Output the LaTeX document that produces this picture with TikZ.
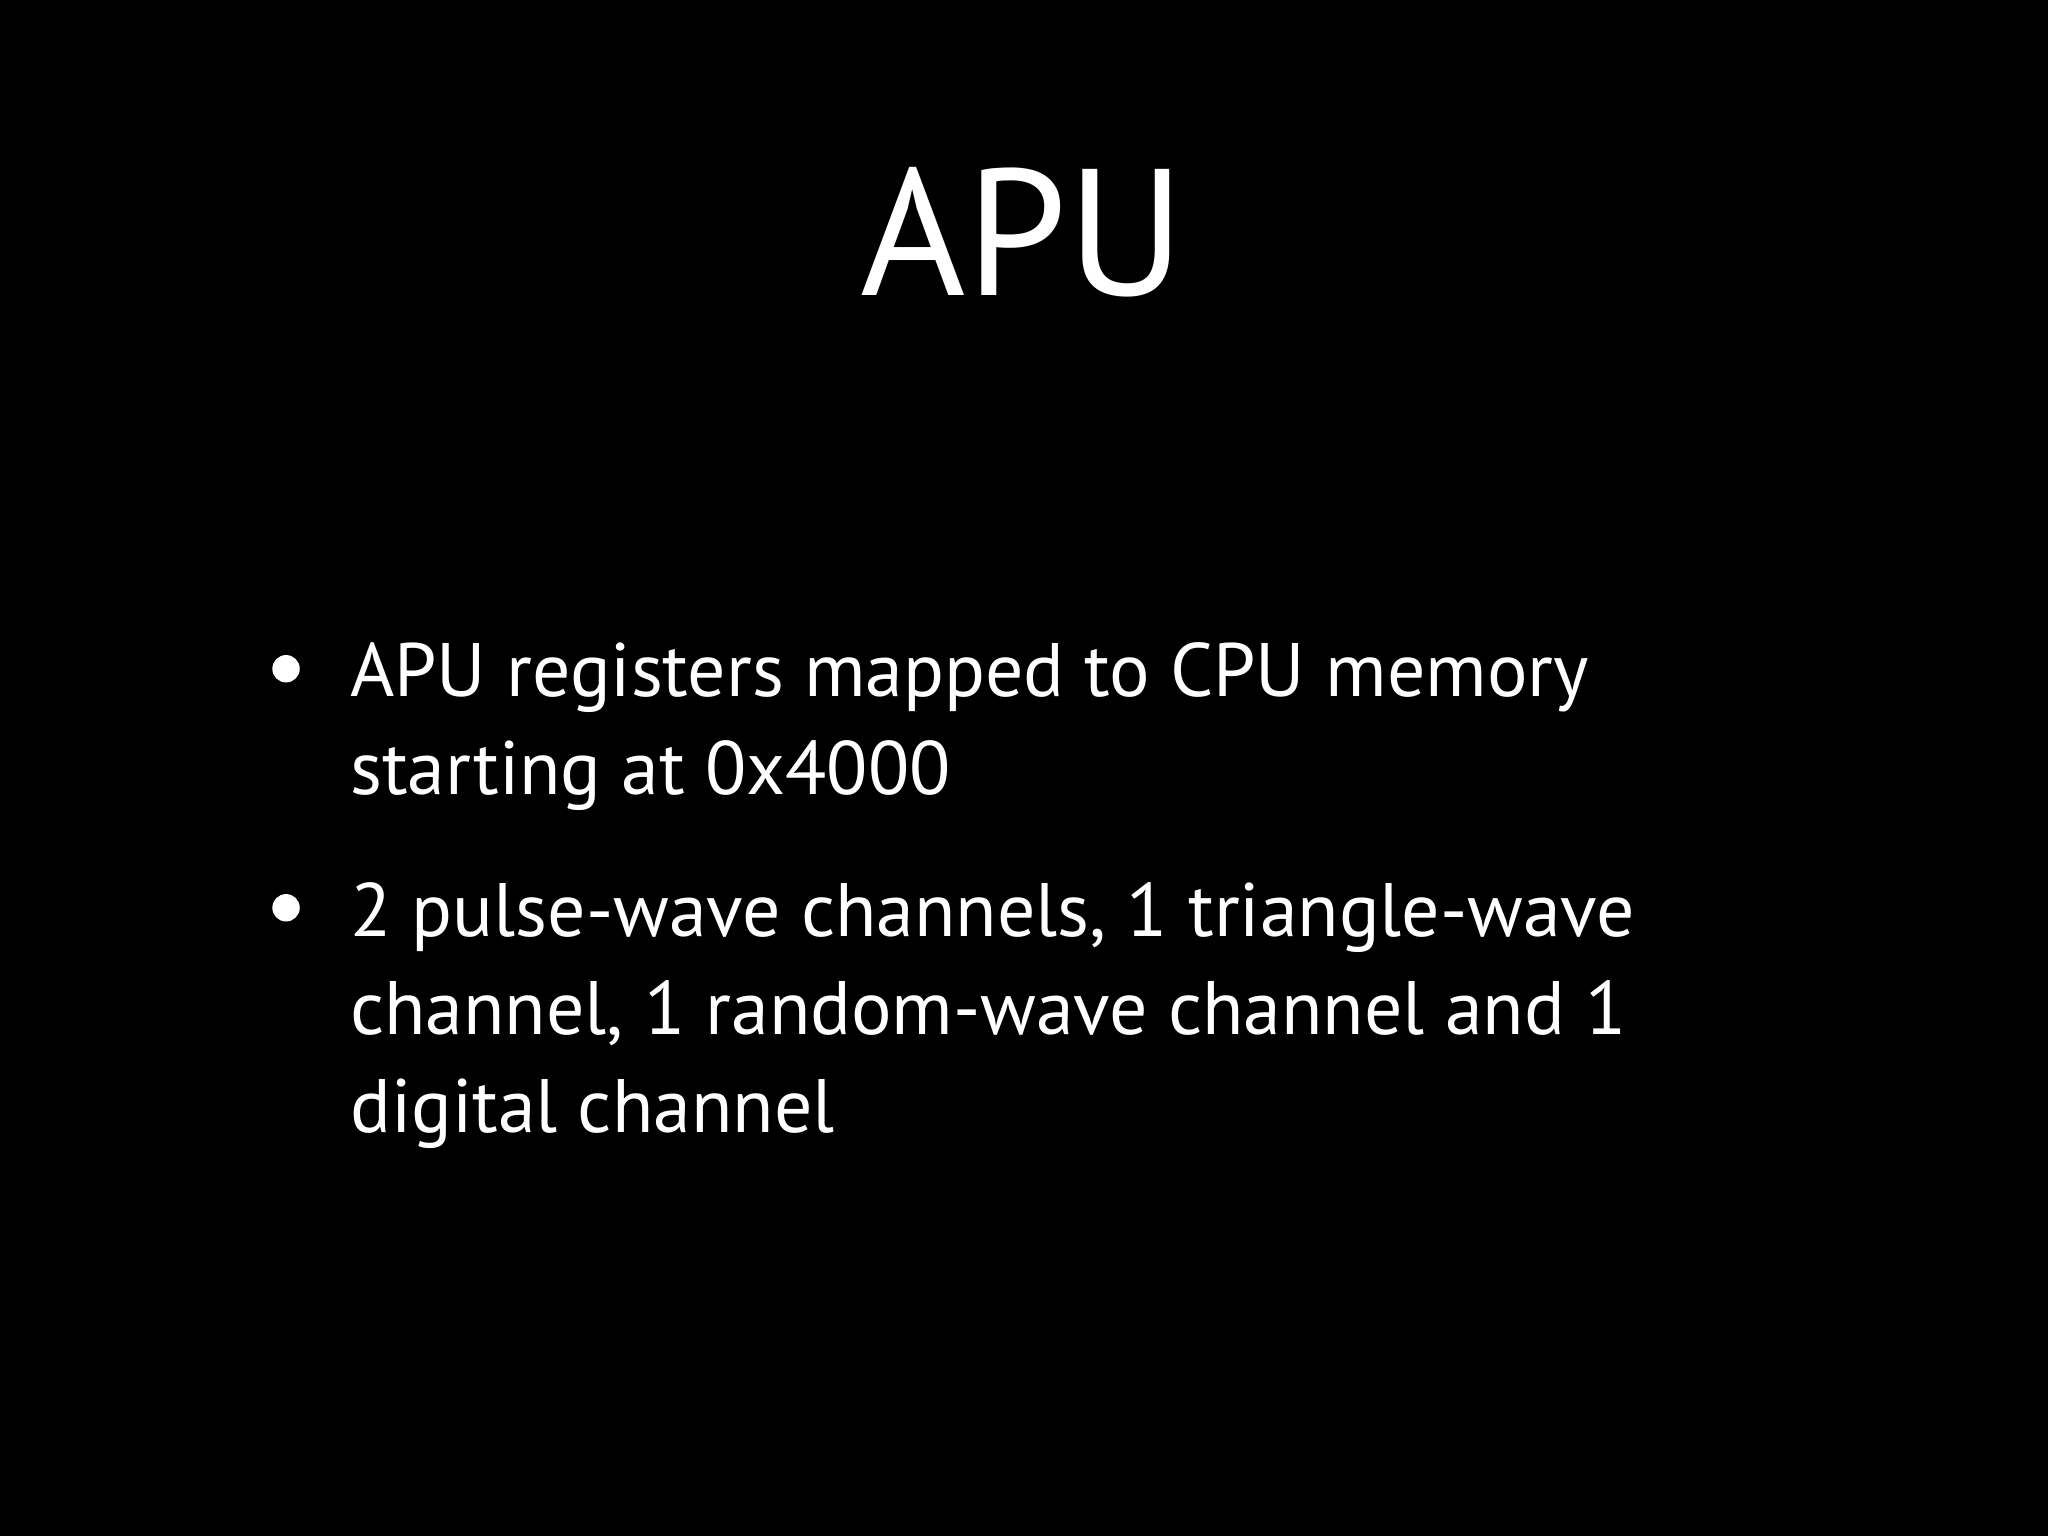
\documentclass[tikz,border=0pt]{standalone}
\usepackage{fontspec}
\setmainfont{PT Sans}
\begin{document}
\begin{tikzpicture}[x=1pt,y=-1pt,
  body/.style={anchor=base west,inner sep=0pt,text=white,font=\fontsize{58}{70}\selectfont},
  dot/.style={circle,fill=white,inner sep=0pt,minimum size=21pt}]
\fill[black] (0,0) rectangle (1568,1176);
\useasboundingbox (0,0) rectangle (1568,1176);
\node[anchor=base,inner sep=0pt,text=white,font=\fontsize{138}{150}\selectfont] (title) at (783,226) {APU};
\node[dot] (b1) at (219,512) {};
\node[body] (l1) at (268,533) {APU registers mapped to CPU memory};
\node[body] (l2) at (268,608) {starting at 0x4000};
\node[dot] (b2) at (219,695) {};
\node[body] (l3) at (268,717) {2 pulse-wave channels, 1 triangle-wave};
\node[body] (l4) at (268,792) {channel, 1 random-wave channel and 1};
\node[body] (l5) at (268,867) {digital channel};
\end{tikzpicture}
\end{document}
